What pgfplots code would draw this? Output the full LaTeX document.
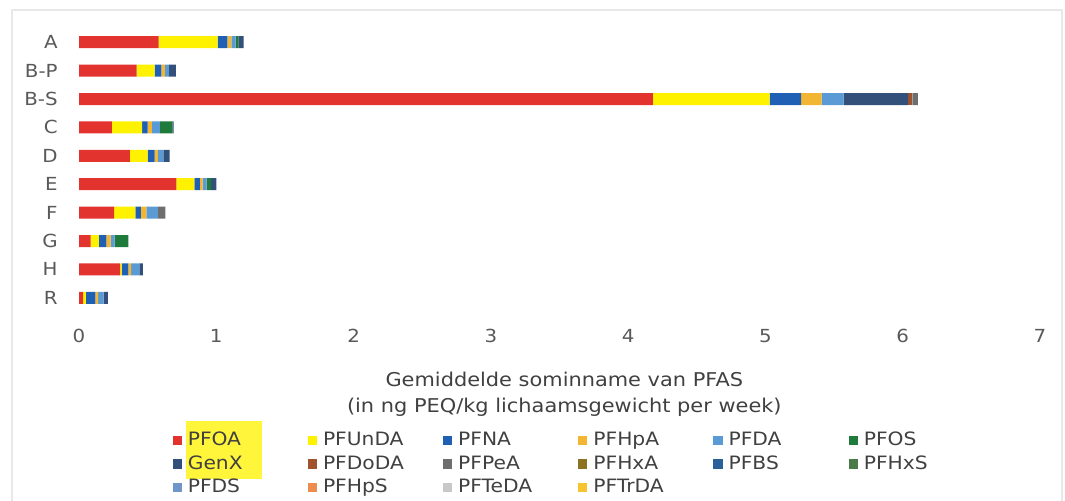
\documentclass[border=0pt]{standalone}
\usepackage{fontspec}
\setmainfont{DejaVu Sans}[FakeStretch=1.1]
\usepackage{pgfplots}
\usepackage{pgfplotstable}
\pgfplotsset{compat=1.18}
\definecolor{cPFOA}{HTML}{E2332F}
\definecolor{cPFUnDA}{HTML}{FFF200}
\definecolor{cPFNA}{HTML}{1F5FB4}
\definecolor{cPFHpA}{HTML}{F2B632}
\definecolor{cPFDA}{HTML}{5B9BD5}
\definecolor{cPFOS}{HTML}{1E7B3C}
\definecolor{cGenX}{HTML}{33507A}
\definecolor{cPFDoDA}{HTML}{A0522D}
\definecolor{cPFPeA}{HTML}{6E6E6E}
\definecolor{cPFHxA}{HTML}{8C7321}
\definecolor{cPFBS}{HTML}{2A6099}
\definecolor{cPFHxS}{HTML}{4A7A47}
\definecolor{cPFDS}{HTML}{7095C8}
\definecolor{cPFHpS}{HTML}{EE8C4E}
\definecolor{cPFTeDA}{HTML}{C8C8C8}
\definecolor{cPFTrDA}{HTML}{F5C42E}
\definecolor{tickgray}{HTML}{595959}
\definecolor{labgray}{HTML}{404040}
\definecolor{hl}{HTML}{FFF53A}

\pgfplotstableread{
cat PFOA PFUnDA PFNA PFHpA PFDA PFOS GenX PFDoDA PFPeA PFHxA PFBS PFHxS PFDS PFHpS PFTeDA PFTrDA
0 0.58 0.43 0.07 0.03 0.03 0.02 0.04 0 0 0 0 0 0 0 0 0
1 0.42 0.13 0.05 0.025 0.03 0 0.05 0 0 0 0 0 0 0 0 0
2 4.18 0.85 0.23 0.15 0.16 0 0.47 0.03 0.04 0 0 0 0 0 0 0
3 0.24 0.22 0.04 0.03 0.06 0.09 0.01 0 0 0 0 0 0 0 0 0
4 0.37 0.13 0.05 0.025 0.04 0 0.045 0 0 0 0 0 0 0 0 0
5 0.71 0.13 0.04 0.02 0.03 0.03 0.04 0 0 0 0 0 0 0 0 0
6 0.255 0.155 0.04 0.04 0.085 0 0 0 0.055 0 0 0 0 0 0 0
7 0.085 0.06 0.055 0.03 0.03 0.1 0 0 0 0 0 0 0 0 0 0
8 0.30 0.01 0.05 0.02 0.06 0 0.025 0 0 0 0 0 0 0 0 0
9 0.03 0.02 0.07 0.02 0.04 0 0.03 0 0 0 0 0 0 0 0 0
}\data

\newcommand\LE[1]{\makebox[58pt][l]{#1}}

\begin{document}
\begin{tikzpicture}
\path[use as bounding box] (0,0) rectangle (532.5pt,250pt);
\draw[gray!18, line width=0.6pt] (6pt,-1pt) -- (6pt,245pt) -- (531pt,245pt) -- (531pt,-1pt);
\fill[hl] (93pt,10.5pt) rectangle (131pt,39.5pt);
\begin{axis}[
  at={(39.5pt,94pt)}, anchor=south west,
  scale only axis, width=480.5pt, height=142pt,
  xbar stacked, bar width=6pt,
  xmin=0, xmax=7, ymin=-0.5, ymax=9.5, y dir=reverse,
  ytick={0,...,9},
  yticklabels={A,B-P,B-S,C,D,E,F,G,H,R},
  xtick={0,...,7},
  axis line style={draw=none},
  major tick length=0pt,
  /pgf/number format/assume math mode=true,
  tick label style={font=\fontsize{9}{10}\selectfont, text=tickgray},
  xticklabel style={anchor=center, yshift=-12pt},
  yticklabel style={anchor=east, inner sep=0pt, xshift=-10.5pt},
  xlabel={Gemiddelde sominname van PFAS\\(in ng PEQ/kg lichaamsgewicht per week)},
  xlabel style={align=center, at={(axis description cs:0.505,-0.289)}, anchor=center,
     font=\fontsize{9.5}{13}\selectfont, text=labgray},
  legend columns=6,
  legend cell align=left,
  legend style={at={(axis description cs:0.097,-0.408)}, anchor=north west,
     draw=none, fill=none, inner sep=0pt,
     font=\fontsize{9.2}{10}\selectfont, text=labgray,
     row sep=-0.6pt,
     /tikz/every odd column/.append style={column sep=1pt}},
  legend image code/.code={\fill[#1] (0pt,-2.3pt) rectangle (4.6pt,2.3pt);},
  every axis plot/.append style={draw=none},
]
\addplot[fill=cPFOA] table[x=PFOA,y=cat]{\data};
\addplot[fill=cPFUnDA] table[x=PFUnDA,y=cat]{\data};
\addplot[fill=cPFNA] table[x=PFNA,y=cat]{\data};
\addplot[fill=cPFHpA] table[x=PFHpA,y=cat]{\data};
\addplot[fill=cPFDA] table[x=PFDA,y=cat]{\data};
\addplot[fill=cPFOS] table[x=PFOS,y=cat]{\data};
\addplot[fill=cGenX] table[x=GenX,y=cat]{\data};
\addplot[fill=cPFDoDA] table[x=PFDoDA,y=cat]{\data};
\addplot[fill=cPFPeA] table[x=PFPeA,y=cat]{\data};
\addplot[fill=cPFHxA] table[x=PFHxA,y=cat]{\data};
\addplot[fill=cPFBS] table[x=PFBS,y=cat]{\data};
\addplot[fill=cPFHxS] table[x=PFHxS,y=cat]{\data};
\addplot[fill=cPFDS] table[x=PFDS,y=cat]{\data};
\addplot[fill=cPFHpS] table[x=PFHpS,y=cat]{\data};
\addplot[fill=cPFTeDA] table[x=PFTeDA,y=cat]{\data};
\addplot[fill=cPFTrDA] table[x=PFTrDA,y=cat]{\data};
\legend{\LE{PFOA},\LE{PFUnDA},\LE{PFNA},\LE{PFHpA},\LE{PFDA},\LE{PFOS},
        \LE{GenX},\LE{PFDoDA},\LE{PFPeA},\LE{PFHxA},\LE{PFBS},\LE{PFHxS},
        \LE{PFDS},\LE{PFHpS},\LE{PFTeDA},\LE{PFTrDA}}
\end{axis}
\end{tikzpicture}
\end{document}
